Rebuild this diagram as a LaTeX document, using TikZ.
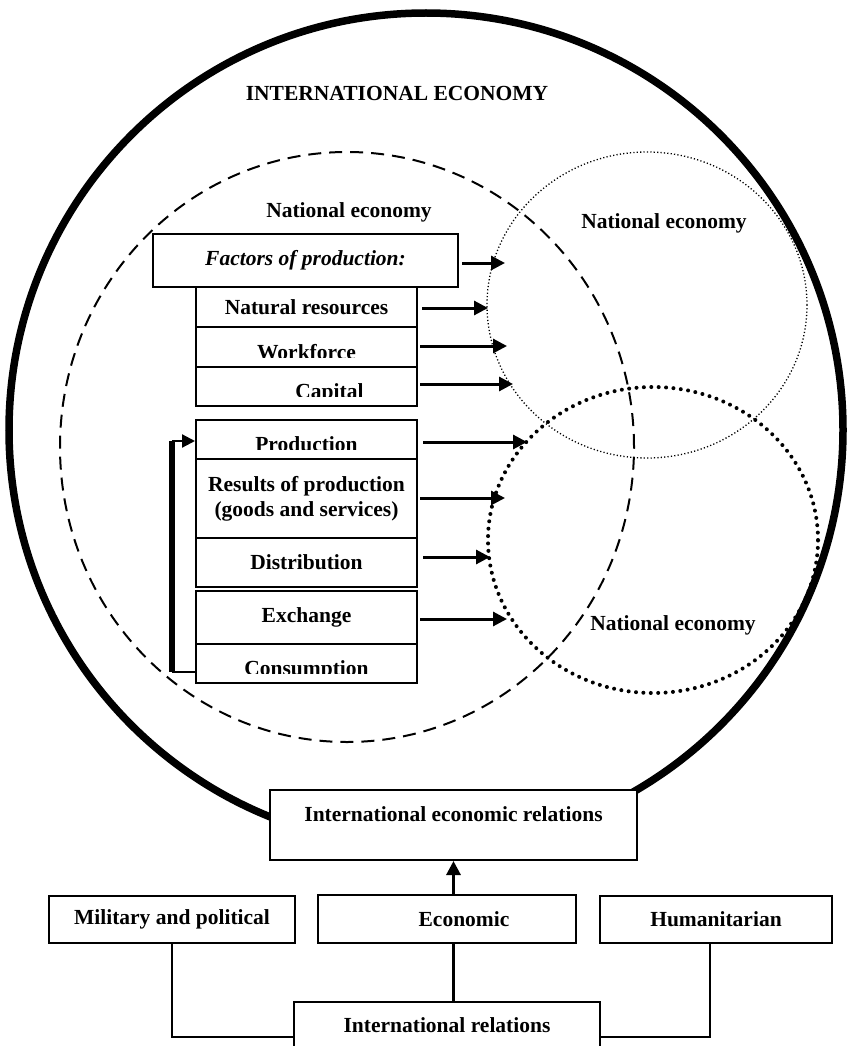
\documentclass[tikz,border=0pt]{standalone}
\usepackage{fontspec}
\setmainfont{Liberation Serif}
\usetikzlibrary{arrows.meta,calc}
\begin{document}
\begin{tikzpicture}[x=1pt,y=-1pt,
  lbl/.style={font=\fontsize{21.5pt}{25pt}\selectfont\bfseries},
  box/.style={draw, line width=2pt, fill=white, inner sep=0pt, align=center, lbl, anchor=north west},
  arr/.style={line width=3pt, -{Triangle[length=14pt,width=14pt]}},
  conn/.style={line width=2pt},
  cuttext/.style 2 args={path picture={
     \clip ([yshift=10pt]path picture bounding box.south west) rectangle (path picture bounding box.north east);
     \node[lbl, draw=none, fill=none, minimum width=0pt, minimum height=0pt, inner sep=0pt, anchor=base]
        at ([xshift=#2,yshift=8pt]path picture bounding box.south) {#1};}},
  bigcircle/.style={line width=7.5pt},
  dashcircle/.style={line width=2pt, dash pattern=on 13pt off 8pt},
  thindots/.style={line width=1.3pt, dash pattern=on 1.2pt off 2.2pt},
  heavydots/.style={line width=4pt, dash pattern=on 0pt off 7.4pt, line cap=round},
]
\useasboundingbox (0,0) rectangle (847,1046);
\clip (0,0) rectangle (847,1046);

% circles
\draw[bigcircle] (426,430) circle[radius=417pt];
\draw[dashcircle] (347,447) ellipse[x radius=287pt, y radius=295pt];
\draw[thindots] (647,305) ellipse[x radius=160pt, y radius=153pt];
\draw[heavydots] (653,540) ellipse[x radius=165pt, y radius=153pt];

% labels
\node[lbl] (title) at (397,93) {INTERNATIONAL ECONOMY};
\node[lbl] (ne1) at (349,212) {National economy};
\node[lbl] (ne2) at (664,223) {National economy};
\node[lbl] (ne3) at (673,625) {National economy};

% stack of boxes
\node[box, minimum width=305pt, minimum height=53pt] (fp) at (152,233) {\itshape Factors of production:};
\node[box, minimum width=221pt, minimum height=40pt] (nr) at (195,286) {Natural resources};
\node[box, minimum width=221pt, minimum height=40pt, cuttext={Workforce}{0pt}] (wf) at (195,326) {};
\node[box, minimum width=221pt, minimum height=39pt, cuttext={Capital}{23pt}] (cap) at (195,366) {};
\node[box, minimum width=221pt, minimum height=39pt, cuttext={Production}{0pt}] (prod) at (195,419) {};
\node[box, minimum width=221pt, minimum height=79pt] (res) at (195,458) {Results of production\\(goods and services)};
\node[box, minimum width=221pt, minimum height=49pt] (dist) at (195,537) {Distribution};
\node[box, minimum width=221pt, minimum height=53pt] (exch) at (195,590) {Exchange};
\node[box, minimum width=221pt, minimum height=39pt, cuttext={Consumption}{0pt}] (cons) at (195,643) {};

% arrow tips on the neighbouring circles
\coordinate (t1) at (505,263);
\coordinate (t2) at (488,308);
\coordinate (t3) at (507,346);
\coordinate (t4) at (513,384);
\coordinate (t5) at (527,442);
\coordinate (t6) at (505,498);
\coordinate (t7) at (490,557);
\coordinate (t8) at (507,619);
\draw[arr] ($(fp.east |- t1)+(3,0)$) -- (t1);
\draw[arr] ($(nr.east |- t2)+(4,0)$) -- (t2);
\draw[arr] ($(wf.east |- t3)+(2,0)$) -- (t3);
\draw[arr] ($(cap.east |- t4)+(2,0)$) -- (t4);
\draw[arr] ($(prod.east |- t5)+(5,0)$) -- (t5);
\draw[arr] ($(res.east |- t6)+(2,0)$) -- (t6);
\draw[arr] ($(dist.east |- t7)+(5,0)$) -- (t7);
\draw[arr] ($(exch.east |- t8)+(2,0)$) -- (t8);

% feedback bracket
\coordinate (bt) at (172,441);
\coordinate (bb) at (172,672);
\draw[line width=5.5pt] (bt) -- (bb);
\draw[conn, line width=1.6pt] (bb) -- (cons.west |- bb);
\draw[line width=2.2pt, -{Triangle[length=13pt,width=13pt]}] (bt) -- (prod.west |- bt);

% bottom part
\node[box, minimum width=367pt, minimum height=70pt, text height=15pt, text depth=23pt] (ier) at (269,789) {International economic relations};
\node[box, minimum width=246pt, minimum height=47pt] (mil) at (48,895) {Military and political};
\node[box, minimum width=258pt, minimum height=48pt] (eco) at (317,894) {\hspace*{34pt}Economic};
\node[box, minimum width=232pt, minimum height=47pt] (hum) at (599,895) {Humanitarian};
\node[box, minimum width=306pt, minimum height=70pt, text height=15pt, text depth=25pt] (ir) at (293,1001) {International relations};

\draw[conn] (mil.south) |- (ir.west);
\draw[conn] ($(hum.south)+(-6,0)$) |- (ir.east);
\draw[conn, line width=2.6pt] (ier.south |- eco.south) -- (ier.south |- ir.north);
\draw[arr] (ier.south |- eco.north) -- (ier.south);
\end{tikzpicture}
\end{document}
